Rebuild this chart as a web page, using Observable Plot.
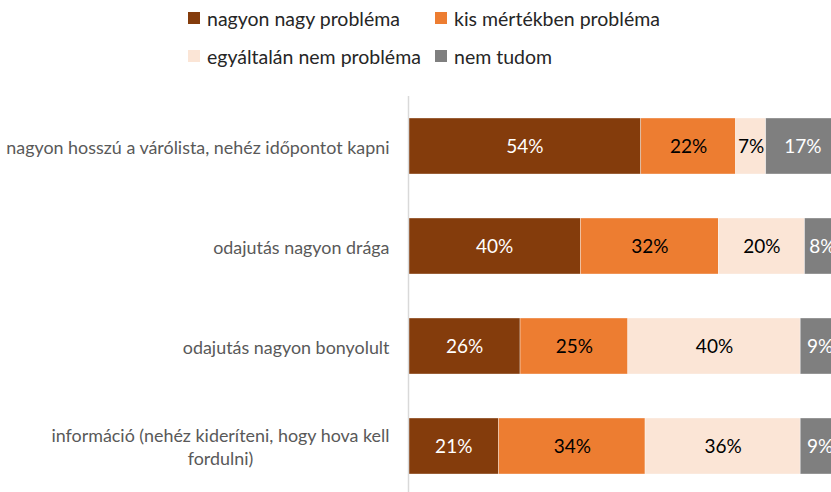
<!DOCTYPE html>
<html>
<head>
<meta charset="utf-8">
<script src="https://cdn.jsdelivr.net/npm/d3@7"></script>
<script src="https://cdn.jsdelivr.net/npm/@observablehq/plot@0.6"></script>
<style>
  html, body { margin: 0; padding: 0; background: #fff; overflow: hidden; width: 831px; height: 492px; }
  #legend { position: relative; width: 831px; height: 80px; font-family: Lato, sans-serif; font-size: 19.5px; color: #262626; }
  .item { position: absolute; display: flex; align-items: center; white-space: nowrap; }
  .sw { width: 12px; height: 12px; margin-right: 7px; flex: none; }
  #chart svg { display: block; overflow: hidden; }
</style>
</head>
<body>
<div id="legend"></div>
<div id="chart"></div>
<script>
const categories = [
  "nagyon hosszú a várólista, nehéz időpontot kapni",
  "odajutás nagyon drága",
  "odajutás nagyon bonyolult",
  "információ (nehéz kideríteni, hogy hova kell\nfordulni)"
];
const series = ["nagyon nagy probléma", "kis mértékben probléma", "egyáltalán nem probléma", "nem tudom"];
const nagyonNagy   = [54, 40, 26, 21];
const kisMertekben = [22, 32, 25, 34];
const egyaltalanNem = [7, 20, 40, 36];
const nemTudom     = [17, 8, 9, 9];
const colors = ["#843C0C", "#ED7D31", "#FBE5D6", "#7F7F7F"];
const whiteLabelSeries = ["nagyon nagy probléma", "nem tudom"];

const valuesBySeries = [nagyonNagy, kisMertekben, egyaltalanNem, nemTudom];
const rows = [];
categories.forEach((cat, i) => {
  series.forEach((s, j) => rows.push({cat, series: s, value: valuesBySeries[j][i]}));
});

// Legend
const legendPos = [[188, 18], [435, 18], [188, 56], [435, 56]];
const legend = document.getElementById("legend");
series.forEach((s, j) => {
  const it = document.createElement("div");
  it.className = "item";
  it.style.left = legendPos[j][0] + "px";
  it.style.top = (legendPos[j][1] - 12) + "px";
  it.style.height = "24px";
  const sw = document.createElement("span");
  sw.className = "sw";
  sw.style.background = colors[j];
  const tx = document.createElement("span");
  tx.textContent = s;
  it.appendChild(sw); it.appendChild(tx);
  legend.appendChild(it);
});

const chart = Plot.plot({
  width: 831,
  height: 412,
  marginLeft: 408,
  marginRight: -8,
  marginTop: 16,
  marginBottom: -4,
  style: {fontFamily: "Lato, sans-serif", background: "white"},
  x: {domain: [0, 100], axis: null},
  y: {domain: categories, paddingInner: 0.44, paddingOuter: 0.22, axis: null},
  color: {domain: series, range: colors},
  marks: [
    Plot.barX(rows, Plot.stackX({x: "value", y: "cat", z: "series", fill: "series", stroke: "white", strokeWidth: 0.6, strokeOpacity: 0.6})),
    Plot.text(rows, Plot.stackX({x: "value", y: "cat", z: "series",
      text: d => whiteLabelSeries.includes(d.series) ? d.value + "%" : null,
      fill: "white", fontSize: 19})),
    Plot.text(rows, Plot.stackX({x: "value", y: "cat", z: "series",
      text: d => whiteLabelSeries.includes(d.series) ? null : d.value + "%",
      fill: "#000000", fontSize: 19})),
    Plot.text(categories, {x: 0, y: d => d, text: d => d, dx: -19, textAnchor: "end",
      fill: "#595959", fontSize: 17.9, lineHeight: 1.28, className: "ylab"}),
    Plot.ruleX([0], {stroke: "#d9d9d9", strokeWidth: 1.5})
  ]
});
document.getElementById("chart").appendChild(chart);

// center multi-line category labels as a block (right edge kept)
chart.querySelectorAll(".ylab text").forEach(t => {
  const spans = t.querySelectorAll("tspan");
  if (spans.length > 1) {
    const w = Math.max(...Array.from(spans, s => s.getComputedTextLength()));
    t.setAttribute("text-anchor", "middle");
    spans.forEach(s => s.setAttribute("x", -w / 2));
  }
});
</script>
</body>
</html>
